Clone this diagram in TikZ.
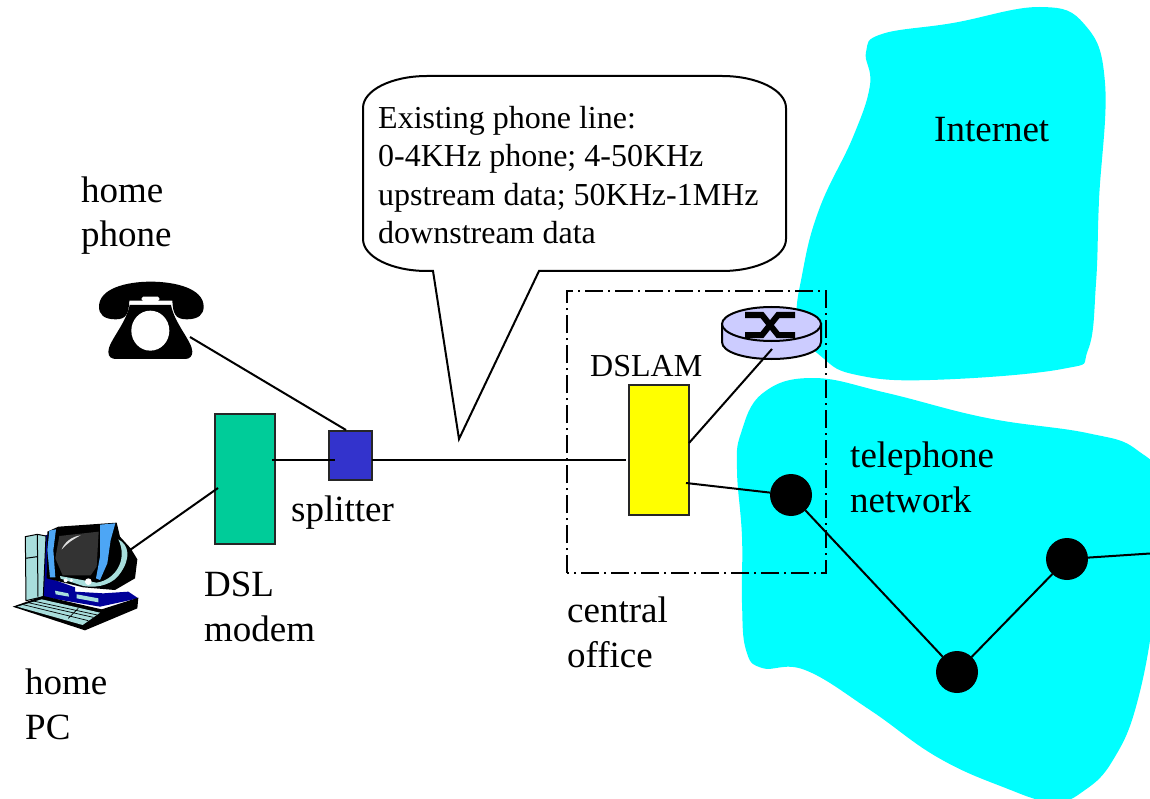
\documentclass[tikz,border=0pt]{standalone}
\usepackage{fontspec}
\setmainfont{Liberation Serif}
\definecolor{cloudcyan}{HTML}{00FFFF}
\definecolor{modemgreen}{HTML}{00CC99}
\definecolor{splitblue}{HTML}{3333CC}
\definecolor{dslamyellow}{HTML}{FFFF00}
\definecolor{routerfill}{HTML}{CCCCFF}
\definecolor{pcteal}{HTML}{A8DEDC}
\definecolor{pcblue}{HTML}{000099}
\definecolor{pcstrip}{HTML}{4DA6F5}
\definecolor{pcscreen}{HTML}{333333}
\begin{document}
\begin{tikzpicture}[x=1pt,y=-1pt,
  wire/.style={black,line width=2pt},
  boxnode/.style={draw=black!85,line width=2pt,inner sep=0pt,outer sep=0pt},
  hub/.style={circle,fill=black,inner sep=0pt,outer sep=0pt,minimum size=42pt},
  cloud/.style={fill=cloudcyan,draw=none},
  biglabel/.style={anchor=north west,inner sep=0pt,align=left,font=\fontsize{37}{44.5}\selectfont},
  smalllabel/.style={anchor=north west,inner sep=0pt,align=left,font=\fontsize{32}{38.4}\selectfont},
  officeline/.style={black,line width=2pt,dash pattern=on 18pt off 5pt on 2pt off 5pt}]
\useasboundingbox (0,0) rectangle (1150,799);
\fill[white] (0,0) rectangle (1150,799);

% clouds
\begin{scope}
\clip (0,0) rectangle (1150,799);
\fill[cloud] plot[smooth cycle,tension=0.7] coordinates {
 (866,52) (882,34) (953,23) (1040,7) (1085,25) (1105,83) (1099,200) (1096,283)
 (1088,350) (1062,369) (930,380) (857,375) (823,358) (798,325) (803,270) (820,207) (853,137) (870,85)};
\fill[cloud] plot[smooth cycle,tension=0.7] coordinates {
 (737,470) (741,433) (763,393) (813,378) (887,393) (987,418) (1087,433) (1137,450)
 (1162,490) (1155,603) (1137,703) (1113,760) (1085,790) (1053,802) (1003,787) (937,757) (870,710)
 (805,670) (762,668) (746,650) (742,603) (742,537)};
\end{scope}

% office outline
\draw[officeline] (567,573) -- (567,291) -- (826,291) -- (826,573) -- cycle;

% callout
\coordinate (tip) at (459,439);
\draw[black,fill=white,line width=2pt,line join=miter]
 (427,76) -- (722,76) .. controls (757,76) and (786,90) .. (786,108)
 -- (786,239) .. controls (786,257) and (757,271) .. (722,271)
 -- (539,271) -- (tip) -- (433,271) -- (427,271)
 .. controls (392,271) and (363,257) .. (363,239)
 -- (363,108) .. controls (363,90) and (392,76) .. (427,76) -- cycle;
\node[smalllabel] (calloutText) at (378,106) {Existing phone line:\\0-4KHz phone; 4-50KHz\\upstream data; 50KHz-1MHz\\downstream data};

% boxes
\node[boxnode,fill=modemgreen,minimum width=60.5pt,minimum height=130pt] (modem) at (245,478.5) {};
\node[boxnode,fill=splitblue,minimum width=43pt,minimum height=48.5pt] (splitter) at (350,455.5) {};
\node[boxnode,fill=dslamyellow,minimum width=60pt,minimum height=130pt] (dslam) at (658.5,449.5) {};

% router
\coordinate (routerPort) at (772,349);
\begin{scope}
\fill[routerfill,draw=black,line width=2pt] (722,324) -- (722,342)
  .. controls (722,352) and (744,359) .. (771.5,359) .. controls (799,359) and (821,352) .. (821,342)
  -- (821,324) -- cycle;
\draw[fill=routerfill,line width=2pt] (771.5,324) ellipse [x radius=49.5,y radius=17];
\draw[black,line width=6pt,line join=miter] (745,315) -- (762,315) -- (778,335) -- (795,335);
\draw[black,line width=6pt,line join=miter] (795,315) -- (778,315) -- (762,335) -- (745,335);
\end{scope}

% hubs
\coordinate (netEdge) at (1150,553.5);
\coordinate (modemIn) at (218,488);
\coordinate (modemOut) at (272,460);
\coordinate (splitIn) at (335,460);
\coordinate (dslamIn) at (626,460);
\coordinate (dslamOut) at (686,483);
\coordinate (dslamUp) at (689,443);
\coordinate (phoneJack) at (190,337);
\coordinate (splitTop) at (346,430);
\coordinate (pcJack) at (130,550);
\node[hub] (hubA) at (791,495) {};
\node[hub] (hubB) at (957,672) {};
\node[hub] (hubC) at (1067,559) {};

% phone
\begin{scope}[shift={(85,270)},scale=1/3]
\fill[black] (134,105) .. controls (124,160) and (70,215) .. (70,245)
  .. controls (70,262) and (80,267) .. (95,267) -- (300,267)
  .. controls (315,267) and (322,258) .. (322,245)
  .. controls (322,215) and (268,160) .. (258,105) -- cycle;
\fill[black] (42,110) .. controls (42,55) and (125,35) .. (197,35)
  .. controls (270,35) and (356,55) .. (356,110)
  .. controls (356,132) and (342,148) .. (305,148)
  .. controls (270,148) and (264,130) .. (262,92) -- (133,92)
  .. controls (131,130) and (125,148) .. (92,148)
  .. controls (55,148) and (42,132) .. (42,110) -- cycle;
\fill[white,rounded corners=1.5pt] (170,80) rectangle (223,93);
\fill[white] (196,182) ellipse [x radius=57,y radius=60];
\end{scope}

% computer
\begin{scope}[shift={(0,500)},scale=1/3]
\fill[pcblue] (130,110) -- (150,100) -- (150,235) -- (225,262) -- (225,275) -- (310,280) -- (385,275) -- (415,295) -- (300,320) -- (125,290) -- cycle;
\draw[black,line width=1pt,fill=pcteal] (76,110) -- (112,103) -- (138,108) -- (130,290) -- (78,302) -- cycle;
\draw[black,line width=1pt] (112,103) -- (114,290);
\draw[black,line width=1pt] (76,175) -- (112,170);
\fill[black] (38,320) -- (130,288) -- (305,328) -- (415,293) -- (412,325) -- (255,391) -- cycle;
\fill[pcteal] (52,320) -- (125,298) -- (300,338) -- (248,375) -- cycle;
\draw[black,line width=.7pt] (70,314) -- (265,362) (85,308) -- (280,352) (100,303) -- (292,345) (205,355) -- (235,325);
\fill[pcteal] (165,272) -- (205,280) -- (207,290) -- (167,283) -- cycle;
\fill[pcteal] (230,283) -- (295,295) -- (295,307) -- (230,295) -- cycle;
\fill[black] (142,95) -- (175,80) -- (350,68) -- (360,110) -- (392,145) -- (412,178) -- (405,235) -- (345,270) -- (250,262) -- (180,245) -- (140,235) -- cycle;
\fill[pcteal] (355,118) .. controls (388,135) and (392,175) .. (362,218) .. controls (342,250) and (300,266) .. (250,258) -- (182,236) -- (180,228) -- (290,248) .. controls (345,240) and (385,180) .. (355,118) -- cycle;
\fill[pcstrip] (148,92) -- (168,88) -- (160,150) -- (166,232) -- (150,232) -- (142,150) -- cycle;
\fill[pcstrip] (300,74) -- (346,70) -- (332,120) -- (322,190) -- (300,240) -- (288,235) -- (300,170) -- cycle;
\fill[pcscreen] (178,108) -- (296,95) -- (290,200) -- (272,226) -- (188,226) -- (166,175) -- cycle;
\fill[white!85!pcscreen] (185,148) .. controls (195,125) and (215,110) .. (242,106) .. controls (215,120) and (200,132) .. (185,148) -- cycle;
\fill[white] (197,241) circle [radius=6] (214,241) circle [radius=5] (265,245) circle [radius=10];
\end{scope}

% connectors
\draw[wire] (phoneJack) -- (splitTop);
\draw[wire] (pcJack) -- (modemIn);
\draw[wire] (modemOut) -- (splitIn);
\draw[wire] (splitter.east |- modemOut) -- (dslamIn);
\draw[wire] (dslamUp) -- (routerPort);
\draw[wire] (dslamOut) -- (hubA);
\draw[wire] (hubA) -- (hubB);
\draw[wire] (hubB) -- (hubC);
\draw[wire] (hubC) -- (netEdge);

% labels
\node[biglabel] (homePhone) at (81,176.5) {home\\phone};
\node[biglabel] (homePC) at (25,669) {home\\PC};
\node[biglabel] (dslModem) at (204,572) {DSL\\modem};
\node[biglabel] (splitLabel) at (291,496) {splitter};
\node[biglabel] (officeLabel) at (567,597) {central\\office};
\node[biglabel] (netLabel) at (850,442) {telephone\\network};
\node[biglabel] (internetLabel) at (934,117) {Internet};
\node[smalllabel] (dslamLabel) at (590,355) {DSLAM};
\end{tikzpicture}
\end{document}
